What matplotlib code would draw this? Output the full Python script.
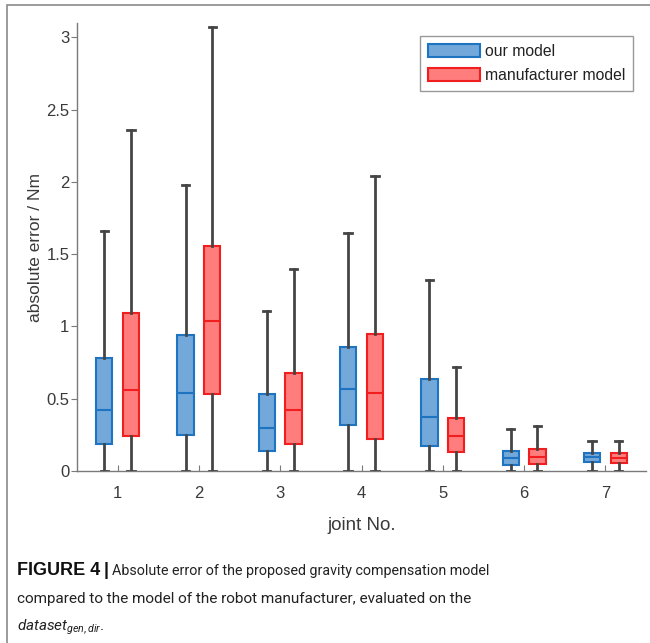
import matplotlib.pyplot as plt
from matplotlib.patches import Patch, Rectangle

plt.rcParams['font.family'] = ['Liberation Sans', 'DejaVu Sans']
plt.rcParams['mathtext.fontset'] = 'custom'
plt.rcParams['mathtext.it'] = 'Roboto:italic'
plt.rcParams['mathtext.rm'] = 'Roboto'

joints = [1, 2, 3, 4, 5, 6, 7]

# our model (blue boxes)
our_lo  = [0.0, 0.0, 0.0, 0.0, 0.0, 0.0, 0.0]
our_q1  = [0.19, 0.25, 0.14, 0.32, 0.17, 0.04, 0.06]
our_med = [0.42, 0.54, 0.30, 0.57, 0.375, 0.09, 0.095]
our_q3  = [0.78, 0.94, 0.53, 0.855, 0.635, 0.14, 0.125]
our_hi  = [1.66, 1.98, 1.11, 1.65, 1.32, 0.29, 0.21]

# manufacturer model (red boxes)
man_lo  = [0.0, 0.0, 0.0, 0.0, 0.0, 0.0, 0.0]
man_q1  = [0.24, 0.53, 0.19, 0.22, 0.13, 0.045, 0.055]
man_med = [0.56, 1.04, 0.42, 0.54, 0.24, 0.095, 0.09]
man_q3  = [1.09, 1.56, 0.68, 0.95, 0.37, 0.15, 0.125]
man_hi  = [2.36, 3.07, 1.40, 2.04, 0.72, 0.31, 0.21]

blue_edge, blue_face = '#1f74c2', '#72a8da'
red_edge, red_face = '#f01e1e', '#ff7d7d'
whisk = '#454545'


def stats(lo, q1, med, q3, hi):
    return [dict(whislo=a, q1=b, med=c, q3=d, whishi=e, fliers=[])
            for a, b, c, d, e in zip(lo, q1, med, q3, hi)]


fig = plt.figure(figsize=(6.5, 6.43), dpi=100)
ax = fig.add_axes([77 / 650, 1 - 471 / 643, 569 / 650, 448 / 643])

for st, off, ec, fc in [(stats(our_lo, our_q1, our_med, our_q3, our_hi), -0.165, blue_edge, blue_face),
                        (stats(man_lo, man_q1, man_med, man_q3, man_hi), 0.165, red_edge, red_face)]:
    ax.bxp(st, positions=[j + off for j in joints], widths=0.2, patch_artist=True,
           showfliers=False, capwidths=0.09,
           boxprops=dict(facecolor=fc, edgecolor=ec, linewidth=1.5),
           medianprops=dict(color=ec, linewidth=1.5),
           whiskerprops=dict(color=whisk, linewidth=2),
           capprops=dict(color=whisk, linewidth=2),
           zorder=3)

ax.set_xlim(0.5, 7.5)
ax.set_ylim(0, 3.1)
ax.set_xticks(joints)
ax.set_xticklabels([str(j) for j in joints])
ax.set_yticks([0, 0.5, 1, 1.5, 2, 2.5, 3])
ax.set_yticklabels(['0', '0.5', '1', '1.5', '2', '2.5', '3'])
for s in ['top', 'right']:
    ax.spines[s].set_visible(False)
for s in ['left', 'bottom']:
    ax.spines[s].set_color('#7a7a7a')
    ax.spines[s].set_linewidth(1)
ax.tick_params(axis='x', direction='in', length=4, colors='#7a7a7a', labelcolor='#3a3a3a',
               labelsize=12, pad=11)
ax.tick_params(axis='y', direction='out', length=4, colors='#7a7a7a', labelcolor='#3a3a3a',
               labelsize=12, pad=1.5)
ax.set_xlabel('joint No.', fontsize=13.5, color='#3a3a3a', labelpad=11)
ax.set_ylabel('absolute error / Nm', fontsize=12.5, color='#3a3a3a', labelpad=2)

handles = [Patch(facecolor=blue_face, edgecolor=blue_edge, linewidth=1.5, label='our model'),
           Patch(facecolor=red_face, edgecolor=red_edge, linewidth=1.5, label='manufacturer model')]
leg = ax.legend(handles=handles, loc='upper right', bbox_to_anchor=(0.977, 0.971),
                borderaxespad=0, fancybox=False, framealpha=1, edgecolor='#999999',
                fontsize=11.3, handlelength=3.3, handleheight=0.95, handletextpad=0.3,
                borderpad=0.5, labelspacing=0.55)
for t in leg.get_texts():
    t.set_color('#222222')

# caption
cap_font = ['Roboto', 'Liberation Sans', 'DejaVu Sans']
bold_font = ['Liberation Sans', 'DejaVu Sans']
fig.text(17 / 650, 1 - 575 / 643, 'FIGURE 4', fontsize=13, fontweight='bold',
         family=bold_font, va='baseline', color='#111111')
fig.text(104 / 650, 1 - 575 / 643, '|', fontsize=13, fontweight='bold',
         family=bold_font, va='baseline', color='#111111')
fig.text(112 / 650, 1 - 575 / 643, 'Absolute error of the proposed gravity compensation model',
         fontsize=10.3, family=cap_font, va='baseline', color='#222222')
fig.text(17 / 650, 1 - 603 / 643,
         'compared to the model of the robot manufacturer, evaluated on the',
         fontsize=11, family=cap_font, va='baseline', color='#222222')
fig.text(17 / 650, 1 - 631 / 643, r'$\mathit{dataset}_{\mathit{gen,dir}}$.',
         fontsize=11, family=cap_font, va='baseline', color='#222222')

# frame around the figure panel
fig.patches.append(Rectangle((7 / 650, -0.1), 1.2, 1 - 5 / 643 + 0.1, transform=fig.transFigure,
                             fill=False, edgecolor='#8a8a8a', linewidth=1.2))

fig.savefig('out.png', dpi=100)
